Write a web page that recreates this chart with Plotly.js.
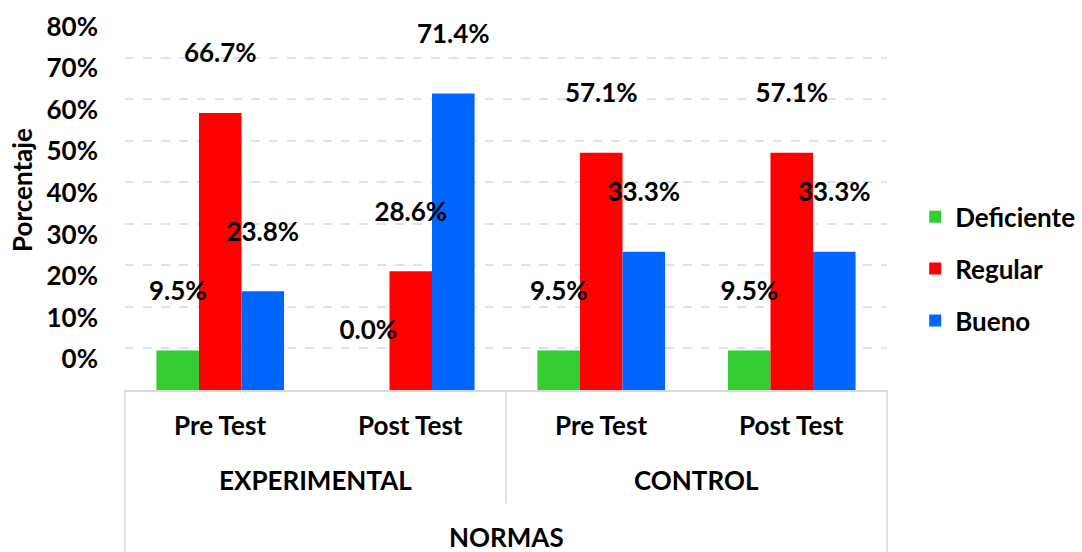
<!DOCTYPE html>
<html>
<head>
<meta charset="utf-8">
<script src="https://cdn.plot.ly/plotly-3.0.1.min.js"></script>
<style>html,body{margin:0;padding:0;background:#fff;}#chart{width:1082px;height:552px;}</style>
</head>
<body>
<div id="chart"></div>
<script>
// ---- data ----
const groups = ["EXPERIMENTAL", "EXPERIMENTAL", "CONTROL", "CONTROL"];
const tests = ["Pre Test", "Post Test", "Pre Test", "Post Test"];
const seriesNames = ["Deficiente", "Regular", "Bueno"];
const deficiente = [9.5, 0.0, 9.5, 9.5];
const regular = [66.7, 28.6, 57.1, 57.1];
const bueno = [23.8, 71.4, 33.3, 33.3];
const yTickVals = [0, 10, 20, 30, 40, 50, 60, 70, 80];
const yTickText = ["0%", "10%", "20%", "30%", "40%", "50%", "60%", "70%", "80%"];
const xTitle = "NORMAS";
const yTitle = "Porcentaje";

// ---- style ----
const colors = ["#33CC33", "#FF0000", "#0066FF"];
const FONT = "Lato, 'Open Sans', sans-serif";
const FS = 26;
const LABEL_LIFT = 10; // invisible carrier height (in %) used to lift the value labels
const bold = (size) => ({family: FONT, size: size, color: "#000", weight: "bold"});

const seriesValues = [deficiente, regular, bueno];
const x = [groups, tests];
const traces = [];
seriesValues.forEach((vals, i) => {
  traces.push({
    type: "bar", x: x, y: vals, name: seriesNames[i],
    marker: {color: colors[i]}, offsetgroup: String(i), legendgroup: String(i),
    hoverinfo: "skip"
  });
});
seriesValues.forEach((vals, i) => {
  traces.push({
    type: "bar", x: x, y: vals.map(() => LABEL_LIFT), base: vals,
    marker: {color: "rgba(0,0,0,0)"}, offsetgroup: String(i), showlegend: false,
    text: vals.map(v => v.toFixed(1) + "%"), textposition: "outside",
    constraintext: "none", cliponaxis: false,
    textfont: bold(FS),
    hoverinfo: "skip"
  });
});

// category labels (two levels) + axis title as annotations
const n = tests.length;
const annotations = [];
tests.forEach((t, i) => {
  annotations.push({text: t, xref: "paper", yref: "paper", x: (i + 0.5) / n, y: -0.099,
    xanchor: "center", yanchor: "middle", showarrow: false, font: bold(FS)});
});
const uniqueGroups = [...new Set(groups)];
uniqueGroups.forEach(g => {
  const first = groups.indexOf(g), last = groups.lastIndexOf(g);
  annotations.push({text: g, xref: "paper", yref: "paper", x: (first + last + 1) / 2 / n, y: -0.255,
    xanchor: "center", yanchor: "middle", showarrow: false, font: bold(FS)});
});
annotations.push({text: xTitle, xref: "paper", yref: "paper", x: 0.5, y: -0.416,
  xanchor: "center", yanchor: "middle", showarrow: false, font: bold(FS)});
annotations.push({text: yTitle, textangle: -90, xref: "paper", yref: "paper", x: -0.135, y: 0.567,
  xanchor: "center", yanchor: "middle", showarrow: false, font: bold(FS)});

const lineColor = "#D9D9D9";
const layout = {
  width: 1082, height: 552,
  margin: {l: 125, r: 195, t: 37, b: 162, autoexpand: false},
  paper_bgcolor: "#fff", plot_bgcolor: "#fff",
  font: bold(FS),
  barmode: "group", bargap: 0.33, bargroupgap: 0,
  showlegend: true,
  legend: {
    x: 1.037, xanchor: "left", y: 0.343, yanchor: "middle",
    font: bold(FS), tracegroupgap: 15, bgcolor: "rgba(0,0,0,0)"
  },
  xaxis: {
    type: "multicategory", automargin: false,
    showline: true, linecolor: lineColor, linewidth: 1.5,
    showgrid: false, ticks: "", showdividers: false, showticklabels: false
  },
  yaxis: {
    range: [0, 85], tickvals: yTickVals, ticktext: yTickText, automargin: false,
    showgrid: true, gridcolor: "#DCE3F2", gridwidth: 2, griddash: "dash",
    zeroline: false, showline: false, ticks: "",
    ticklabelshift: -31, ticklabelstandoff: 26,
    tickfont: bold(FS)
  },
  shapes: [
    {type: "line", xref: "paper", yref: "paper", x0: 0, x1: 0, y0: 0, y1: -0.5, line: {color: lineColor, width: 1.5}},
    {type: "line", xref: "paper", yref: "paper", x0: 1, x1: 1, y0: 0, y1: -0.5, line: {color: lineColor, width: 1.5}},
    {type: "line", xref: "paper", yref: "paper", x0: 0.5, x1: 0.5, y0: 0, y1: -0.32, line: {color: lineColor, width: 1.5}}
  ],
  annotations: annotations
};

Plotly.newPlot("chart", traces, layout, {staticPlot: true, displayModeBar: false});
</script>
</body>
</html>
